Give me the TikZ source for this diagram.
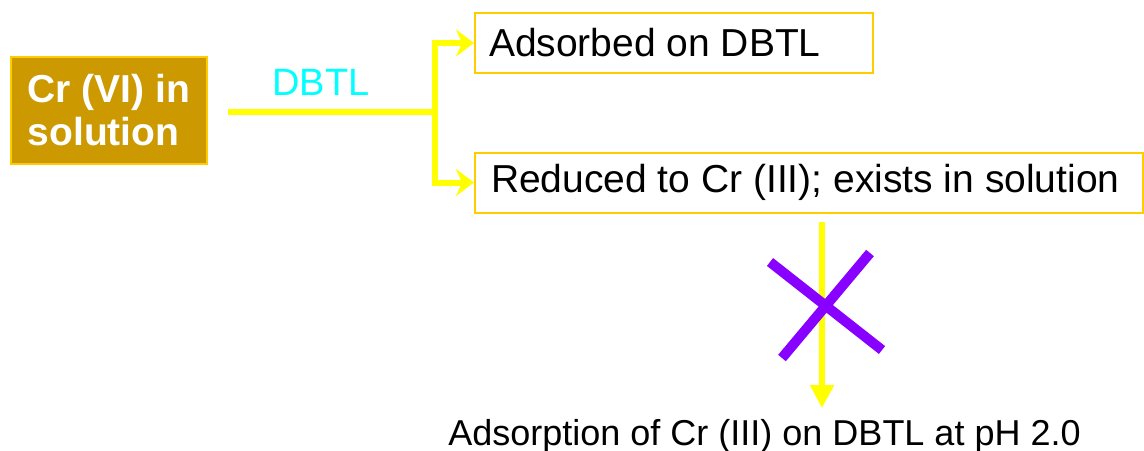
\documentclass[tikz,border=0pt]{standalone}
\usepackage{fontspec}
\setmainfont{Liberation Sans}
\usetikzlibrary{arrows.meta}

\definecolor{goldline}{RGB}{255,204,0}
\definecolor{crfill}{RGB}{204,153,0}
\definecolor{flowyellow}{RGB}{255,255,0}
\definecolor{dbtlcyan}{RGB}{0,255,255}
\definecolor{crosspurple}{RGB}{136,0,255}

\tikzset{
  flow/.style={draw=flowyellow, line width=3pt},
  outbox/.style={draw=goldline, line width=1pt, anchor=west, inner xsep=7pt,
    minimum height=30pt, font=\fontsize{19.5pt}{22pt}\selectfont}
}

\begin{document}
\begin{tikzpicture}[x=0.5pt, y=-0.5pt]
     \useasboundingbox (0,0) rectangle (1144,450);

     % start box
     \node[draw=goldline, line width=1pt, fill=crfill, text=white, anchor=north west,
       minimum width=98pt, minimum height=53.5pt, align=left,
       font=\bfseries\fontsize{19.5pt}{21.5pt}\selectfont]
       (cr) at (10,56) {Cr (VI) in\\solution};

     % results
     \node[outbox] (ads) at (474,43) {\makebox[185pt][l]{Adsorbed on DBTL}};
     \node[outbox, inner xsep=8pt] (red) at (474,182.5) {\makebox[318pt][l]{Reduced to Cr (III); exists in solution}};
     \node[anchor=base, font=\fontsize{18pt}{21pt}\selectfont] (res) at (764.5,445) {Adsorption of Cr (III) on DBTL at pH 2.0};

     % flow
     \coordinate (dstart) at (228,112);
     \coordinate (split) at (435,112);
     \node[anchor=base, text=dbtlcyan, font=\fontsize{19pt}{22pt}\selectfont] (dbtl) at (321,95) {DBTL};
     \draw[flow] (dstart) -- (split);
     \draw[flow, -{Stealth[length=9pt, width=13.5pt, inset=3pt]}] (split) |- (ads.west);
     \draw[flow, -{Stealth[length=9pt, width=13.5pt, inset=3pt]}] (split) |- (red.west);

     % blocked path
     \coordinate (drop) at (822,222);
     \coordinate (dropend) at (822,408);
     \draw[flow, -{Triangle[length=11.5pt, width=11.5pt]}] (drop) -- (dropend);
     \draw[crosspurple, line width=5pt] (770,262) -- (882,350);
     \draw[crosspurple, line width=5pt] (870,253) -- (782,358);

\end{tikzpicture}
\end{document}
